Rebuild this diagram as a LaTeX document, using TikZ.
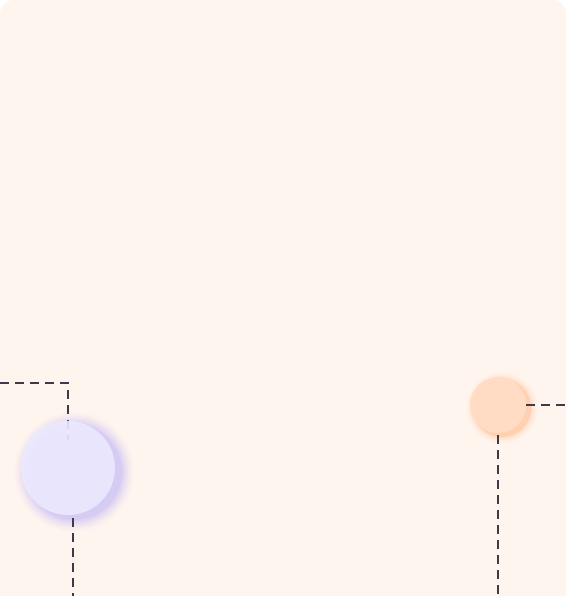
\documentclass[tikz,border=0pt]{standalone}
\begin{document}
\begin{tikzpicture}[x=1pt,y=-1pt,
  dashline/.style={draw=lineC,line width=1.8pt,dash pattern=on 9pt off 6pt},
  ]
\definecolor{bgC}{HTML}{FFF5EF}
\definecolor{lineC}{HTML}{3E3A4C}
\definecolor{purpC}{HTML}{ECE9FF}
\definecolor{purpG}{HTML}{A79EFF}
\definecolor{orC}{HTML}{FFDCC3}
\definecolor{orG}{HTML}{FF9A4D}
\useasboundingbox (0,0) rectangle (566,596);
\fill[white] (0,0) rectangle (566,596);
\fill[bgC] (0,596) -- (0,14) arc (180:270:14) -- (552,0) arc (270:360:14) -- (566,596) -- cycle;
% left purple
\coordinate (lstart) at (0,383);
\coordinate (lcorner) at (68,383);
\coordinate (linner) at (68,440);
\coordinate (lbottom) at (73,596);
\draw[dashline] (lstart) -- (lcorner) -- (linner);
\foreach \r/\o in {60/0.03,58/0.04,56/0.05,54/0.07,52/0.09,50/0.12,48/0.15}{
  \fill[purpG,opacity=\o] (74,472) circle (\r);
}
\node[circle,fill=purpC,opacity=0.88,minimum size=94pt,inner sep=0pt] (p) at (68,468) {};
\coordinate (pb) at (73,518);
\draw[dashline] (pb) -- (lbottom);
% right orange
\foreach \r/\o in {36/0.03,34/0.05,32/0.08,30/0.12,29/0.16}{
  \fill[orG,opacity=\o] (502,408) circle (\r);
}
\node[circle,fill=orC,minimum size=56pt,inner sep=0pt] (o) at (498,405) {};
\coordinate (oright) at (566,405);
\coordinate (obottom) at (498,596);
\draw[dashline] (o.east) -- (oright);
\draw[dashline] ([yshift=-2pt]o.south) -- (obottom);
\end{tikzpicture}
\end{document}
